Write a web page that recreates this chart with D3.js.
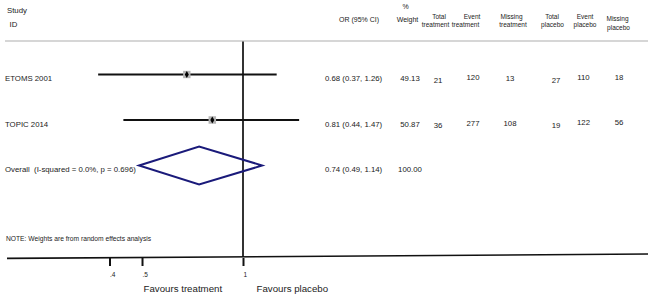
<!DOCTYPE html>
<html><head><meta charset="utf-8">
<script src="https://cdn.jsdelivr.net/npm/d3@7/dist/d3.min.js"></script>
<style>
body{margin:0;background:#fff;}
svg text{font-family:"Liberation Sans",Arial,sans-serif;fill:#222;white-space:pre;}
</style></head>
<body><svg id="c" width="648" height="300"></svg>
<script>
// ---- data ----
const studies = ["ETOMS 2001", "TOPIC 2014"];
const oddsRatio = [0.68, 0.81];
const ciLow = [0.37, 0.44];
const ciHigh = [1.26, 1.47];
const weight = [49.13, 50.87];
const totalTreatment = [21, 36];
const eventTreatment = [120, 277];
const missingTreatment = [13, 108];
const totalPlacebo = [27, 19];
const eventPlacebo = [110, 122];
const missingPlacebo = [18, 56];
const overallLabel = "Overall  (I-squared = 0.0%, p = 0.696)";
const overallOR = 0.74, overallLow = 0.49, overallHigh = 1.14, overallWeight = 100.00;
const tickValues = [0.4, 0.5, 1];
const tickLabels = [".4", ".5", "1"];
const note = "NOTE: Weights are from random effects analysis";

const svg = d3.select("#c");
const f2 = d3.format(".2f");

// scales
const x = d3.scaleLog().domain([0.4, 1]).range([109.5, 243]);
const rows = [...studies, "Overall"];
const y = d3.scalePoint().domain(rows).range([74.5, 165.5]);
const box = d3.scaleSqrt().domain([0, 100]).range([0, 10.5]);

// header
const hdr = svg.append("g").style("font-size", "7.8px");
hdr.append("text").attr("x", 7).attr("y", 13).text("Study");
hdr.append("text").attr("x", 9.5).attr("y", 27).text("ID");
const headCols = [
  {fs: 7, lines: [["OR (95% CI)", 359, 22]]},
  {fs: 7, lines: [["%", 405.5, 9], ["Weight", 407.5, 22]]},
  {fs: 6.5, lines: [["Total", 439, 18.5], ["treatment", 435.5, 27]]},
  {fs: 6.5, lines: [["Event", 472, 18.5], ["treatment", 465.5, 27]]},
  {fs: 6.5, lines: [["Missing", 511.5, 18.5], ["treatment", 513, 27]]},
  {fs: 6.5, lines: [["Total", 552, 18.5], ["placebo", 552.5, 27]]},
  {fs: 6.5, lines: [["Event", 585, 18.5], ["placebo", 585, 27]]},
  {fs: 6.5, lines: [["Missing", 617.5, 21], ["placebo", 618.5, 30]]}
];
headCols.forEach(c => c.lines.forEach(([t, xx, yy]) =>
  hdr.append("text").attr("x", xx).attr("y", yy).attr("text-anchor", "middle")
    .style("font-size", c.fs + "px").text(t)));

// top separator line
svg.append("line").attr("x1", 5).attr("x2", 648).attr("y1", 41).attr("y2", 41)
  .attr("stroke", "#c8c8c8").attr("stroke-width", 1.5);

// null line
svg.append("line").attr("x1", x(1)).attr("x2", x(1)).attr("y1", 41.5).attr("y2", 257)
  .attr("stroke", "#333").attr("stroke-width", 2);

// CI lines
const g = svg.append("g");
studies.forEach((s, i) => {
  const yy = y(s);
  g.append("line").attr("x1", x(ciLow[i])).attr("x2", x(ciHigh[i]))
    .attr("y1", yy).attr("y2", yy).attr("stroke", "#111").attr("stroke-width", 2);
  const b = box(weight[i]);
  g.append("rect").attr("x", x(oddsRatio[i]) - b / 2).attr("y", yy - b / 2)
    .attr("width", b).attr("height", b).attr("fill", "#b4b4b4");
  g.append("path").attr("d", d3.symbol(d3.symbolDiamond, 14)())
    .attr("transform", `translate(${x(oddsRatio[i])},${yy})`).attr("fill", "#000");
});

// overall diamond
const oy = y("Overall"), dh = 19;
g.append("path")
  .attr("d", `M${x(overallLow)},${oy}L${x(overallOR)},${oy - dh}L${x(overallHigh)},${oy}L${x(overallOR)},${oy + dh}Z`)
  .attr("fill", "none").attr("stroke", "#1a1a7a").attr("stroke-width", 2);

// labels and columns
const lab = svg.append("g").style("font-size", "7.8px");
rows.forEach((r, i) => {
  lab.append("text").attr("x", 5).attr("y", y(r) + 6.5).text(i < studies.length ? r : overallLabel);
});
const orText = studies.map((s, i) => `${f2(oddsRatio[i])} (${f2(ciLow[i])}, ${f2(ciHigh[i])})`);
orText.push(`${f2(overallOR)} (${f2(overallLow)}, ${f2(overallHigh)})`);
rows.forEach((r, i) => lab.append("text").attr("x", 325).attr("y", y(r) + 6.5).text(orText[i]));
const wText = weight.map(f2).concat([f2(overallWeight)]);
rows.forEach((r, i) => lab.append("text").attr("x", 410).attr("y", y(r) + 6.5).attr("text-anchor", "middle").text(wText[i]));

const dataCols = [
  {x: 438, dy: 8, vals: totalTreatment},
  {x: 473, dy: 5.5, vals: eventTreatment},
  {x: 510, dy: 6, vals: missingTreatment},
  {x: 556, dy: 8, vals: totalPlacebo},
  {x: 583.5, dy: 5, vals: eventPlacebo},
  {x: 619, dy: 5, vals: missingPlacebo}
];
dataCols.forEach(c => studies.forEach((s, i) =>
  lab.append("text").attr("x", c.x).attr("y", y(s) + c.dy).attr("text-anchor", "middle").text(c.vals[i])));

// note
svg.append("text").attr("x", 6).attr("y", 240.5).style("font-size", "6.7px").text(note);

// x axis
const axisY = 258;
const ax = svg.append("g").attr("transform", `translate(0,${axisY})`)
  .call(d3.axisBottom(x).tickValues(tickValues).tickSize(8)
    .tickFormat((d, i) => tickLabels[i]));
ax.select(".domain").remove();
ax.selectAll(".tick line").attr("stroke", "#111").attr("stroke-width", 2);
ax.selectAll(".tick text").attr("text-anchor", "start").attr("x", 0).attr("y", 19)
  .attr("dy", 0).style("font-size", "6.5px").style("font-family", "Liberation Sans, Arial, sans-serif").attr("fill", "#222");
svg.append("line").attr("x1", 7).attr("x2", 648).attr("y1", 258.4).attr("y2", 254)
  .attr("stroke", "#111").attr("stroke-width", 1.6);

// favours labels
const fav = svg.append("g").style("font-size", "9.7px");
fav.append("text").attr("x", 143.5).attr("y", 292).text("Favours treatment");
fav.append("text").attr("x", 256.5).attr("y", 292).text("Favours placebo");
</script></body></html>
